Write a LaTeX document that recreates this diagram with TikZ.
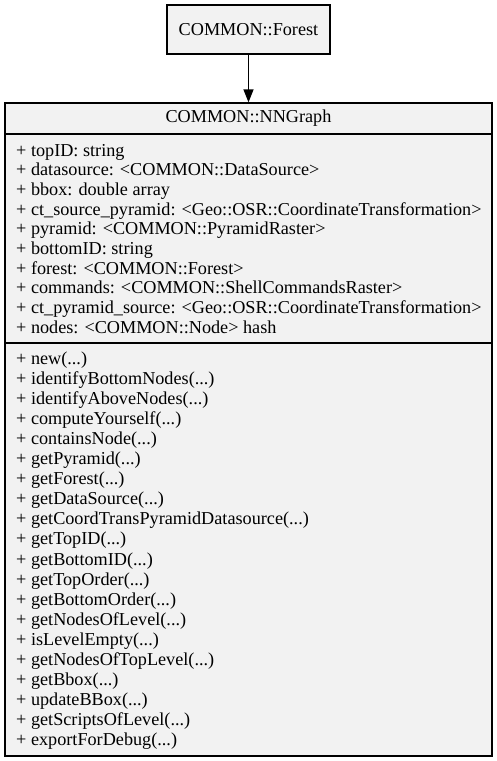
\documentclass[tikz,border=0pt]{standalone}
\usepackage{fontspec}
\setmainfont{Liberation Serif}
\usepackage{tikz}
\usetikzlibrary{arrows.meta}

\definecolor{boxgray}{HTML}{F2F2F2}

\begin{document}
\begin{tikzpicture}[x=1pt, y=-1pt,
  classbox/.style={rectangle, draw=black, fill=boxgray, line width=1.2pt, inner sep=0pt},
  member/.style={anchor=base west, inner sep=0pt},
  every node/.style={font=\fontsize{18.2}{20}\selectfont}]

 \useasboundingbox (0,0) rectangle (497,761);

 % boxes
 \node[classbox, minimum width=163pt, minimum height=49pt] (forest) at (248.5,29.5) {COMMON::Forest};
 \node[classbox, minimum width=487pt, minimum height=31pt] (graph) at (248.5,118.5) {COMMON::NNGraph};
 \node[classbox, minimum width=487pt, minimum height=209pt] (attrs) at (248.5,238.5) {};
 \node[classbox, minimum width=487pt, minimum height=413pt] (methods) at (248.5,549.5) {};

 % arrow
 \draw[line width=1.2pt, -{Triangle[length=13pt, width=10pt]}] (forest.south) -- (graph.north);

 % attributes
 \node[member] (a1)  at (16,156.0) {+ topID: string};
 \node[member] (a2)  at (16,175.7) {+ datasource: <COMMON::DataSource>};
 \node[member] (a3)  at (16,195.4) {+ bbox: double array};
 \node[member] (a4)  at (16,215.1) {+ ct\_source\_pyramid: <Geo::OSR::CoordinateTransformation>};
 \node[member] (a5)  at (16,234.8) {+ pyramid: <COMMON::PyramidRaster>};
 \node[member] (a6)  at (16,254.5) {+ bottomID: string};
 \node[member] (a7)  at (16,274.2) {+ forest: <COMMON::Forest>};
 \node[member] (a8)  at (16,293.9) {+ commands: <COMMON::ShellCommandsRaster>};
 \node[member] (a9)  at (16,313.6) {+ ct\_pyramid\_source: <Geo::OSR::CoordinateTransformation>};
 \node[member] (a10) at (16,333.3) {+ nodes: <COMMON::Node> hash};

 % methods
 \node[member] (m1)  at (16,364.0) {+ new(...)};
 \node[member] (m2)  at (16,384.1) {+ identifyBottomNodes(...)};
 \node[member] (m3)  at (16,404.2) {+ identifyAboveNodes(...)};
 \node[member] (m4)  at (16,424.3) {+ computeYourself(...)};
 \node[member] (m5)  at (16,444.4) {+ containsNode(...)};
 \node[member] (m6)  at (16,464.5) {+ getPyramid(...)};
 \node[member] (m7)  at (16,484.6) {+ getForest(...)};
 \node[member] (m8)  at (16,504.7) {+ getDataSource(...)};
 \node[member] (m9)  at (16,524.8) {+ getCoordTransPyramidDatasource(...)};
 \node[member] (m10) at (16,544.9) {+ getTopID(...)};
 \node[member] (m11) at (16,565.0) {+ getBottomID(...)};
 \node[member] (m12) at (16,585.1) {+ getTopOrder(...)};
 \node[member] (m13) at (16,605.2) {+ getBottomOrder(...)};
 \node[member] (m14) at (16,625.3) {+ getNodesOfLevel(...)};
 \node[member] (m15) at (16,645.4) {+ isLevelEmpty(...)};
 \node[member] (m16) at (16,665.5) {+ getNodesOfTopLevel(...)};
 \node[member] (m17) at (16,685.6) {+ getBbox(...)};
 \node[member] (m18) at (16,705.7) {+ updateBBox(...)};
 \node[member] (m19) at (16,725.8) {+ getScriptsOfLevel(...)};
 \node[member] (m20) at (16,745.9) {+ exportForDebug(...)};

\end{tikzpicture}
\end{document}
